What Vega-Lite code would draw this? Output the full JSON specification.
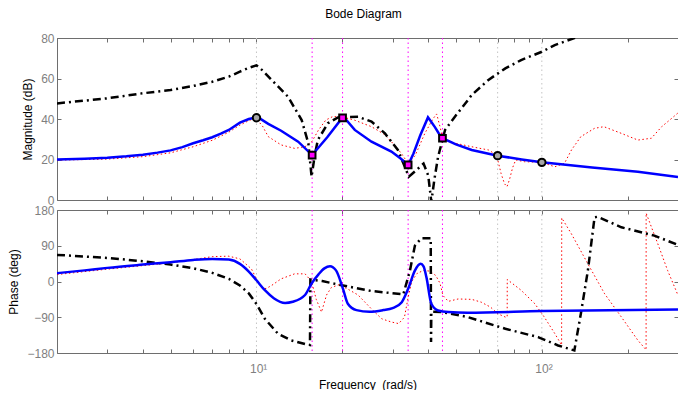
{
  "$schema": "https://vega.github.io/schema/vega-lite/v6.json",
  "padding": {"left": 7, "top": 8, "right": 0, "bottom": 0},
  "spacing": -2,
  "config": {
    "font": "Liberation Sans",
    "view": {"stroke": null},
    "axis": {"domainColor": "#6e6e6e", "tickColor": "#6e6e6e", "labelColor": "#7f7f7f", "labelFontSize": 12, "titleFontSize": 12, "titleFontWeight": "normal", "titleColor": "black", "grid": false, "tickSize": -4, "labelPadding": 7, "domainWidth": 1, "tickWidth": 1, "labelFont": "Liberation Sans", "titleFont": "Liberation Sans"}
  },
  "datasets": {
    "vlines": [{"f": 10, "k": "g"}, {"f": 70, "k": "g"}, {"f": 100, "k": "g"}, {"f": 15.67, "k": "m"}, {"f": 20.03, "k": "m"}, {"f": 34.0, "k": "m"}, {"f": 44.85, "k": "m"}],
    "circ": [{"f": 10, "v": 40.6}, {"f": 70, "v": 21.9}, {"f": 100, "v": 18.6}],
    "sq": [{"f": 15.67, "v": 22.2}, {"f": 20.03, "v": 40.6}, {"f": 34.0, "v": 17.3}, {"f": 44.85, "v": 30.5}],
    "magBlue": [
      {"f": 2, "v": 20.0}, {"f": 2.5, "v": 20.4}, {"f": 3, "v": 20.9}, {"f": 3.5, "v": 21.6}, {"f": 4, "v": 22.4}, {"f": 4.5, "v": 23.4}, {"f": 5, "v": 24.5}, {"f": 5.5, "v": 26.1}, {"f": 6, "v": 28.0}, {"f": 6.5, "v": 29.5}, {"f": 7, "v": 31.0}, {"f": 7.5, "v": 32.8}, {"f": 8, "v": 34.6}, {"f": 8.75, "v": 38.2}, {"f": 9.4, "v": 40.0}, {"f": 10, "v": 40.8}, {"f": 10.3, "v": 40.2}, {"f": 11, "v": 37.6}, {"f": 12.2, "v": 34.2}, {"f": 14, "v": 28.8}, {"f": 15.67, "v": 22.2}, {"f": 17.7, "v": 31.0}, {"f": 20.03, "v": 40.8}, {"f": 20.5, "v": 40.0}, {"f": 22.1, "v": 34.6}, {"f": 25.3, "v": 28.8}, {"f": 29.7, "v": 23.9}, {"f": 32, "v": 20.5}, {"f": 34, "v": 17.3}, {"f": 35.5, "v": 23}, {"f": 37.5, "v": 32}, {"f": 39.9, "v": 40.8}, {"f": 41, "v": 38.5}, {"f": 42.2, "v": 36.0}, {"f": 43.5, "v": 33.0}, {"f": 44.85, "v": 30.5}, {"f": 50, "v": 27.5}, {"f": 56.8, "v": 24.7}, {"f": 70, "v": 21.9}, {"f": 85, "v": 20.0}, {"f": 100, "v": 18.6}, {"f": 150, "v": 16.0}, {"f": 217, "v": 14.0}, {"f": 300, "v": 11.3}
    ],
    "magRed": [
      {"f": 2, "v": 19.7}, {"f": 3, "v": 20.2}, {"f": 4, "v": 21.4}, {"f": 5, "v": 23.3}, {"f": 6, "v": 26.3}, {"f": 7, "v": 29.5}, {"f": 8, "v": 33.5}, {"f": 8.75, "v": 37.0}, {"f": 9.5, "v": 39.5}, {"f": 10, "v": 40.0}, {"f": 10.5, "v": 36.5}, {"f": 11, "v": 31.3}, {"f": 12.2, "v": 27.2}, {"f": 13.6, "v": 25.5}, {"f": 14.8, "v": 26.3}, {"f": 15.67, "v": 29.0}, {"f": 16.5, "v": 34.6}, {"f": 17.5, "v": 39.5}, {"f": 18.5, "v": 41.2}, {"f": 20, "v": 41.0}, {"f": 22, "v": 39.5}, {"f": 25.3, "v": 36.2}, {"f": 28, "v": 32.5}, {"f": 29.7, "v": 28.8}, {"f": 32.2, "v": 23.0}, {"f": 34, "v": 18.0}, {"f": 36, "v": 22.0}, {"f": 38.9, "v": 32.9}, {"f": 41.5, "v": 40.0}, {"f": 42.8, "v": 42.5}, {"f": 44, "v": 36.0}, {"f": 44.85, "v": 31.0}, {"f": 48, "v": 28.5}, {"f": 56.8, "v": 26.3}, {"f": 65, "v": 24.7}, {"f": 68, "v": 23.0}, {"f": 70, "v": 20.0}, {"f": 72, "v": 13.0}, {"f": 74, "v": 8.0}, {"f": 75.5, "v": 6.6}, {"f": 77, "v": 10.0}, {"f": 79, "v": 16.0}, {"f": 81, "v": 19.8}, {"f": 87, "v": 18.9}, {"f": 100, "v": 18.6}, {"f": 111, "v": 16.4}, {"f": 120, "v": 18.1}, {"f": 127, "v": 24.7}, {"f": 137, "v": 31.3}, {"f": 153, "v": 35.4}, {"f": 165, "v": 36.2}, {"f": 190, "v": 32.9}, {"f": 217, "v": 29.6}, {"f": 242, "v": 30.5}, {"f": 263, "v": 36.2}, {"f": 285, "v": 40.3}, {"f": 300, "v": 43.0}
    ],
    "magBlack": [
      {"f": 2, "v": 47.7}, {"f": 3, "v": 50.2}, {"f": 4, "v": 52.7}, {"f": 5, "v": 54.3}, {"f": 6, "v": 56.3}, {"f": 7, "v": 58.4}, {"f": 8, "v": 60.9}, {"f": 8.75, "v": 63.4}, {"f": 9.5, "v": 65.5}, {"f": 10, "v": 66.5}, {"f": 10.5, "v": 64.0}, {"f": 11.3, "v": 59.3}, {"f": 12.9, "v": 51.0}, {"f": 14.4, "v": 39.5}, {"f": 15.2, "v": 28.0}, {"f": 15.6, "v": 11.5}, {"f": 16.0, "v": 22.0}, {"f": 16.4, "v": 29.6}, {"f": 17.8, "v": 37.9}, {"f": 19.3, "v": 40.8}, {"f": 22.7, "v": 41.1}, {"f": 25.3, "v": 38.7}, {"f": 28.2, "v": 32.9}, {"f": 31.3, "v": 24.7}, {"f": 34.2, "v": 11.5}, {"f": 36.5, "v": 15.0}, {"f": 38.5, "v": 18.0}, {"f": 40, "v": 12.0}, {"f": 41, "v": -1.0}, {"f": 42, "v": 10.0}, {"f": 43.3, "v": 21.4}, {"f": 45.8, "v": 34.6}, {"f": 49.5, "v": 41.0}, {"f": 55.1, "v": 49.4}, {"f": 56.8, "v": 51.9}, {"f": 65, "v": 59.3}, {"f": 74.5, "v": 65.0}, {"f": 84.6, "v": 69.1}, {"f": 100, "v": 73.2}, {"f": 111, "v": 76.5}, {"f": 132, "v": 80.3}, {"f": 150, "v": 83.0}
    ],
    "phBlue": [
      {"f": 2, "v": 21}, {"f": 2.5, "v": 28}, {"f": 3, "v": 34.3}, {"f": 4, "v": 42.6}, {"f": 5, "v": 48.6}, {"f": 6, "v": 54.4}, {"f": 7, "v": 56.9}, {"f": 8, "v": 55.2}, {"f": 8.75, "v": 44.4}, {"f": 9.4, "v": 25}, {"f": 10, "v": 3}, {"f": 10.7, "v": -22}, {"f": 11.5, "v": -42}, {"f": 12.6, "v": -54}, {"f": 13.4, "v": -51}, {"f": 14.8, "v": -34}, {"f": 15.6, "v": -5}, {"f": 16.5, "v": 18}, {"f": 17.3, "v": 33}, {"f": 18.1, "v": 38.5}, {"f": 19, "v": 28}, {"f": 20.1, "v": -18.5}, {"f": 20.9, "v": -56}, {"f": 22.4, "v": -72}, {"f": 24.9, "v": -76}, {"f": 27.8, "v": -72}, {"f": 30, "v": -67}, {"f": 32.3, "v": -52}, {"f": 34, "v": -18.5}, {"f": 35.9, "v": 27.5}, {"f": 37.6, "v": 44.4}, {"f": 38.5, "v": 38}, {"f": 39.4, "v": 11}, {"f": 41, "v": -56}, {"f": 43.3, "v": -73}, {"f": 47, "v": -77}, {"f": 55, "v": -78.5}, {"f": 100, "v": -74.5}, {"f": 300, "v": -70.4}
    ],
    "phRed": [
      {"f": 2, "v": 17.5}, {"f": 3, "v": 31}, {"f": 4, "v": 40}, {"f": 5, "v": 47}, {"f": 6, "v": 55}, {"f": 7, "v": 62.7}, {"f": 8, "v": 63.7}, {"f": 8.75, "v": 57}, {"f": 9.6, "v": 31.8}, {"f": 10, "v": 6.7}, {"f": 10.4, "v": -14}, {"f": 10.8, "v": -18}, {"f": 11.3, "v": -10}, {"f": 12.2, "v": 6.7}, {"f": 13.6, "v": 19.3}, {"f": 14.8, "v": 19.3}, {"f": 15.6, "v": 0}, {"f": 16.2, "v": -45}, {"f": 16.9, "v": -77}, {"f": 17.6, "v": -34}, {"f": 18.3, "v": -15}, {"f": 19.5, "v": -8}, {"f": 21, "v": -20}, {"f": 22.7, "v": -34}, {"f": 25.6, "v": -73}, {"f": 27.5, "v": -94}, {"f": 29.7, "v": -102}, {"f": 31.5, "v": -106}, {"f": 33, "v": -90}, {"f": 34, "v": -40}, {"f": 35, "v": 0}, {"f": 36.5, "v": 20}, {"f": 38.5, "v": 28}, {"f": 40.5, "v": 26}, {"f": 42.5, "v": 15}, {"f": 44, "v": -5}, {"f": 45, "v": -35}, {"f": 47, "v": -50}, {"f": 50.9, "v": -44}, {"f": 56.8, "v": -45}, {"f": 61.3, "v": -52}, {"f": 66.1, "v": -64.5}, {"f": 70, "v": -81}, {"f": 74.5, "v": -89.5}, {"f": 75.6, "v": -89.5}, {"f": 75.65, "v": 5}, {"f": 84.6, "v": -22}, {"f": 94.5, "v": -56}, {"f": 102, "v": -89.5}, {"f": 111, "v": -131}, {"f": 117.3, "v": -160}, {"f": 117.4, "v": 160}, {"f": 127, "v": 119.7}, {"f": 145, "v": 44.4}, {"f": 166, "v": -31}, {"f": 190, "v": -89.5}, {"f": 217, "v": -148}, {"f": 231.9, "v": -172}, {"f": 232, "v": 172}, {"f": 255, "v": 94.6}, {"f": 276, "v": 27.5}, {"f": 295, "v": -22}, {"f": 300, "v": -35}
    ],
    "phBlack": [
      {"f": 2, "v": 67}, {"f": 3, "v": 59.4}, {"f": 4, "v": 51}, {"f": 5, "v": 42.6}, {"f": 6, "v": 33.5}, {"f": 7, "v": 21.7}, {"f": 8, "v": 6.7}, {"f": 8.75, "v": -10}, {"f": 9.4, "v": -30}, {"f": 10, "v": -56.6}, {"f": 10.7, "v": -93.8}, {"f": 11.9, "v": -131.5}, {"f": 13.2, "v": -148}, {"f": 14.9, "v": -158}, {"f": 15.4, "v": -160}, {"f": 15.45, "v": 5}, {"f": 17, "v": 1}, {"f": 20.1, "v": -10}, {"f": 25.3, "v": -24}, {"f": 32.7, "v": -32.5}, {"f": 34.5, "v": 27.5}, {"f": 35.9, "v": 90}, {"f": 37.8, "v": 109}, {"f": 40.8, "v": 109}, {"f": 40.9, "v": -152}, {"f": 41.0, "v": -76}, {"f": 44.4, "v": -76.5}, {"f": 55, "v": -89.5}, {"f": 74.5, "v": -119}, {"f": 97, "v": -140}, {"f": 114, "v": -161}, {"f": 130, "v": -173.5}, {"f": 137, "v": -81}, {"f": 145, "v": 28}, {"f": 153, "v": 161.6}, {"f": 157, "v": 163}, {"f": 190, "v": 136.5}, {"f": 248, "v": 115.5}, {"f": 300, "v": 92}
    ]
  },
  "vconcat": [
    {
      "width": 621,
      "height": 162,
      "title": {"text": "Bode Diagram", "fontSize": 12, "fontWeight": "normal", "color": "black", "font": "Liberation Sans", "anchor": "middle", "frame": "group", "offset": 11, "dx": -4},
      "resolve": {"axis": {"x": "independent", "y": "independent"}},
      "layer": [
        {
          "data": {"name": "vlines"},
          "mark": {"type": "rule", "strokeDash": [1.5, 3], "strokeWidth": 1},
          "encoding": {
            "x": {"field": "f", "type": "quantitative", "scale": {"type": "log", "domain": [2, 300]}, "axis": null},
            "color": {"field": "k", "type": "nominal", "scale": {"domain": ["g", "m"], "range": ["#c4c4c4", "#ff00ff"]}, "legend": null}
          }
        },
        {
          "data": {"name": "magRed"},
          "mark": {"type": "line", "color": "#ff0000", "strokeWidth": 1, "strokeDash": [1.5, 2.5], "clip": true},
          "encoding": {
            "x": {"field": "f", "type": "quantitative", "scale": {"type": "log", "domain": [2, 300]}, "axis": {"orient": "bottom", "values": [2, 3, 4, 5, 6, 7, 8, 9, 10, 20, 30, 40, 50, 60, 70, 80, 90, 100, 200, 300], "labels": false, "title": null}},
            "y": {"field": "v", "type": "quantitative", "scale": {"domain": [0, 80]}, "axis": {"orient": "left", "values": [0, 20, 40, 60, 80], "title": "Magnitude (dB)", "titlePadding": 6}}
          }
        },
        {
          "data": {"name": "magBlack"},
          "mark": {"type": "line", "color": "#000000", "strokeWidth": 2.5, "strokeDash": [8, 4, 2, 4], "clip": true},
          "encoding": {
            "x": {"field": "f", "type": "quantitative", "scale": {"type": "log", "domain": [2, 300]}, "axis": null},
            "y": {"field": "v", "type": "quantitative", "scale": {"domain": [0, 80]}, "axis": null}
          }
        },
        {
          "data": {"name": "magBlue"},
          "mark": {"type": "line", "color": "#0000ff", "strokeWidth": 2.5, "clip": true},
          "encoding": {
            "x": {"field": "f", "type": "quantitative", "scale": {"type": "log", "domain": [2, 300]}, "axis": {"orient": "top", "values": [2, 3, 4, 5, 6, 7, 8, 9, 10, 20, 30, 40, 50, 60, 70, 80, 90, 100, 200, 300], "labels": false, "title": null}},
            "y": {"field": "v", "type": "quantitative", "scale": {"domain": [0, 80]}, "axis": {"orient": "right", "values": [0, 20, 40, 60, 80], "labels": false, "title": null}}
          }
        },
        {
          "data": {"name": "circ"},
          "mark": {"type": "point", "shape": "circle", "filled": true, "fill": "#a6a6a6", "stroke": "#000000", "strokeWidth": 2, "size": 55, "opacity": 1},
          "encoding": {
            "x": {"field": "f", "type": "quantitative", "scale": {"type": "log", "domain": [2, 300]}, "axis": null},
            "y": {"field": "v", "type": "quantitative", "scale": {"domain": [0, 80]}, "axis": null}
          }
        },
        {
          "data": {"name": "sq"},
          "mark": {"type": "point", "shape": "square", "filled": true, "fill": "#ff00ff", "stroke": "#000000", "strokeWidth": 2, "size": 45, "opacity": 1},
          "encoding": {
            "x": {"field": "f", "type": "quantitative", "scale": {"type": "log", "domain": [2, 300]}, "axis": null},
            "y": {"field": "v", "type": "quantitative", "scale": {"domain": [0, 80]}, "axis": null}
          }
        }
      ]
    },
    {
      "width": 621,
      "height": 143,
      "resolve": {"axis": {"x": "independent", "y": "independent"}},
      "layer": [
        {
          "data": {"name": "vlines"},
          "mark": {"type": "rule", "strokeDash": [1.5, 3], "strokeWidth": 1},
          "encoding": {
            "x": {"field": "f", "type": "quantitative", "scale": {"type": "log", "domain": [2, 300]}, "axis": null},
            "color": {"field": "k", "type": "nominal", "scale": {"domain": ["g", "m"], "range": ["#c4c4c4", "#ff00ff"]}, "legend": null}
          }
        },
        {
          "data": {"name": "phRed"},
          "mark": {"type": "line", "color": "#ff0000", "strokeWidth": 1, "strokeDash": [1.5, 2.5], "clip": true},
          "encoding": {
            "x": {"field": "f", "type": "quantitative", "scale": {"type": "log", "domain": [2, 300]}, "axis": {"orient": "bottom", "values": [2, 3, 4, 5, 6, 7, 8, 9, 10, 20, 30, 40, 50, 60, 70, 80, 90, 100, 200, 300], "labelExpr": "datum.value == 10 ? '10¹' : (datum.value == 100 ? '10²' : '')", "labelPadding": 14, "labelAlign": "left", "labelOffset": -7, "title": "Frequency\u00a0 (rad/s)", "titlePadding": 5}},
            "y": {"field": "v", "type": "quantitative", "scale": {"domain": [-180, 180]}, "axis": {"orient": "left", "values": [-180, -90, 0, 90, 180], "title": "Phase (deg)", "titlePadding": 6}}
          }
        },
        {
          "data": {"name": "phBlack"},
          "mark": {"type": "line", "color": "#000000", "strokeWidth": 2.5, "strokeDash": [8, 4, 2, 4], "clip": true},
          "encoding": {
            "x": {"field": "f", "type": "quantitative", "scale": {"type": "log", "domain": [2, 300]}, "axis": null},
            "y": {"field": "v", "type": "quantitative", "scale": {"domain": [-180, 180]}, "axis": null}
          }
        },
        {
          "data": {"name": "phBlue"},
          "mark": {"type": "line", "color": "#0000ff", "strokeWidth": 2.5, "clip": true, "interpolate": "monotone"},
          "encoding": {
            "x": {"field": "f", "type": "quantitative", "scale": {"type": "log", "domain": [2, 300]}, "axis": {"orient": "top", "values": [2, 3, 4, 5, 6, 7, 8, 9, 10, 20, 30, 40, 50, 60, 70, 80, 90, 100, 200, 300], "labels": false, "title": null}},
            "y": {"field": "v", "type": "quantitative", "scale": {"domain": [-180, 180]}, "axis": {"orient": "right", "values": [-180, -90, 0, 90, 180], "labels": false, "title": null}}
          }
        }
      ]
    }
  ]
}
